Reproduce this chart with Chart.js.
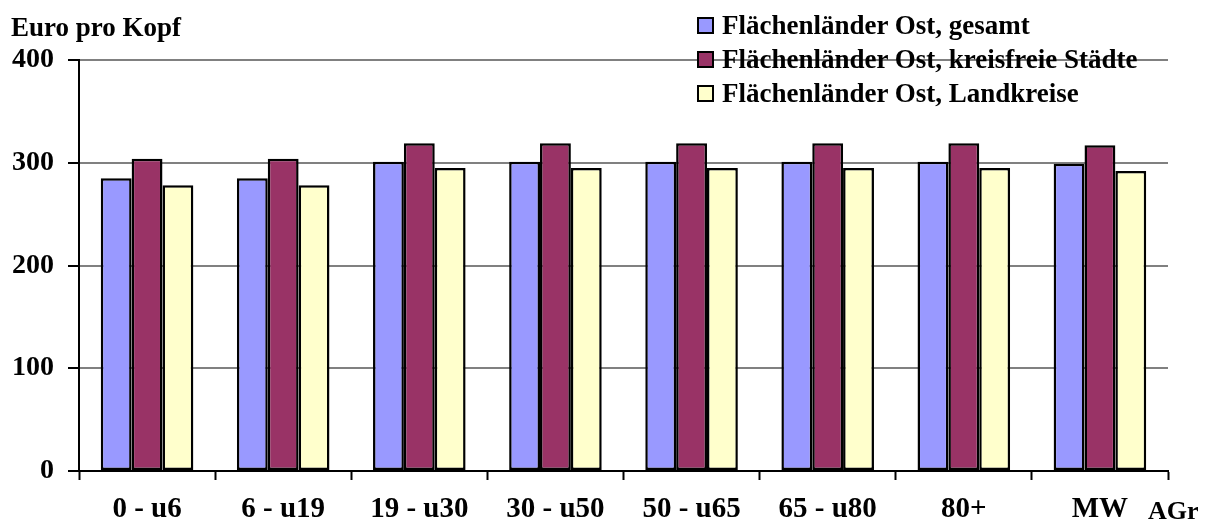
<!DOCTYPE html>
<html>
<head>
<meta charset="utf-8">
<script src="https://cdn.jsdelivr.net/npm/chart.js@4"></script>
<style>
body{margin:0;background:#fff;}
#wrap{position:relative;width:1208px;height:527px;}
#legend{position:absolute;left:697px;top:8px;font:bold 27px "Liberation Serif",serif;color:#000;}
.row{height:34px;display:flex;align-items:center;white-space:nowrap;}
.box{width:13px;height:13px;border:2px solid #000;margin-right:8px;}
</style>
</head>
<body>
<div id="wrap">
<canvas id="chart"></canvas>
<div id="legend"></div>
</div>
<script>
// ======================================
// DATA
// ======================================

const categories = ["0 - u6","6 - u19","19 - u30","30 - u50","50 - u65","65 - u80","80+","MW"];

const gesamt = [285,285,301,301,301,301,301,299];

const kreisfreie = [304,304,319,319,319,319,319,317];

const landkreise = [278,278,295,295,295,295,295,292];

const seriesNames = [
"Flächenländer Ost, gesamt",
"Flächenländer Ost, kreisfreie Städte",
"Flächenländer Ost, Landkreise"
];

const yTicks = [0,100,200,300,400];

const colors = ["#9999FF","#993366","#FFFFCC"];

const FONT = "Liberation Serif";

// ======================================
// EXTRA TEXT
// ======================================

const extraText = {
id:"extraText",
afterDraw(chart){
const c = chart.ctx;
c.save();
c.fillStyle = "#000";
c.font = "bold 27px '" + FONT + "'";
c.textBaseline = "alphabetic";
c.textAlign = "left";
c.fillText("Euro pro Kopf", 11, 36);
c.font = "bold 26px '" + FONT + "'";
c.fillText("AGr", 1148, 519);
c.restore();
}
};

// ======================================
// CHART
// ======================================

const data = [gesamt,kreisfreie,landkreise];

const chart = new Chart(document.getElementById("chart"),{

type:"bar",

data:{
labels:categories,
datasets:data.map((d,i)=>({
label:seriesNames[i],
data:d,
backgroundColor:colors[i],
borderColor:"#000",
borderWidth:2.5,
borderSkipped:false,
categoryPercentage:0.68,
barPercentage:1.0
}))
},

options:{
responsive:true,
maintainAspectRatio:false,
animation:false,
layout:{padding:{top:60,right:40,left:0,bottom:0}},
plugins:{
legend:{display:false},
tooltip:{enabled:false}
},
scales:{
x:{
grid:{
offset:true,
drawOnChartArea:false,
drawTicks:true,
tickLength:9,
tickColor:"#000",
tickWidth:2,
color:"#000"
},
border:{color:"#000",width:2},
ticks:{
color:"#000",
font:{family:FONT,size:29,weight:"bold"},
padding:12,
maxRotation:0
},
afterFit(s){ s.height = 56; }
},
y:{
min:0,
max:400,
afterBuildTicks(s){ s.ticks = yTicks.map(v=>({value:v})); },
grid:{
color:"#808080",
lineWidth:2,
tickLength:11,
tickColor:"#000",
tickWidth:2
},
border:{color:"#000",width:2},
ticks:{
color:"#000",
font:{family:FONT,size:28,weight:"bold"},
padding:14
},
afterFit(s){ s.width = 79; }
}
}
},

plugins:[extraText]

});

// ======================================
// LEGEND
// ======================================

const legend = document.getElementById("legend");

seriesNames.forEach((n,i)=>{
legend.insertAdjacentHTML("beforeend",
`<div class="row"><div class="box" style="background:${colors[i]}"></div>${n}</div>`);
});
</script>
</body>
</html>
